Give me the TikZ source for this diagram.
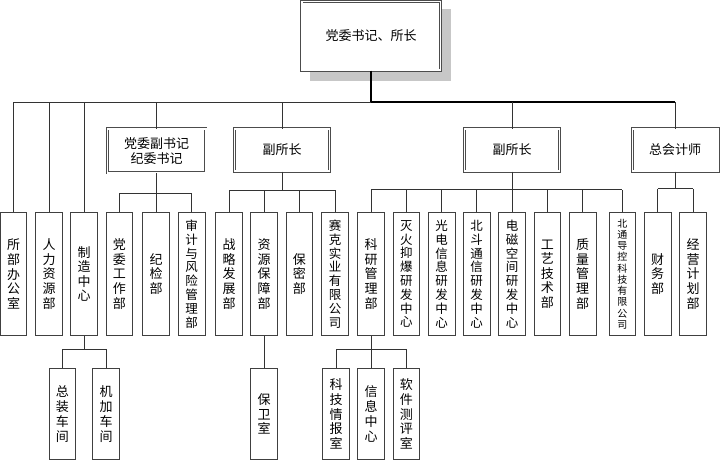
\documentclass[tikz,border=0pt]{standalone}
\usepackage{fontspec}
\newfontfamily\cjk{Noto Sans CJK SC}
\begin{document}
\begin{tikzpicture}[x=1pt,y=-1pt,
  ln/.style={draw=black!80, line width=0.8pt},
  thick line/.style={draw=black, line width=1.7pt},
  vbox/.style={draw=black!75, fill=white, line width=0.9pt, minimum width=26.7pt, minimum height=123.4pt, inner sep=0pt, align=center, font=\cjk\fontsize{13}{14.6}\selectfont},
  vlong/.style={vbox, font=\cjk\fontsize{12.5}{13.8}\selectfont},
  vtiny/.style={vbox, font=\cjk\fontsize{10}{11.25}\selectfont},
  lbox/.style={vbox, minimum height=91.2pt, font=\cjk\fontsize{13}{14.8}\selectfont},
  dbox/.style={draw=black!70, fill=white, line width=0.8pt, double=white, double distance=1.4pt, inner sep=0pt, align=center, font=\cjk\fontsize{13}{15}\selectfont},
  shadowbox/.style={fill=black!22, draw=none}
]
\useasboundingbox (0,0) rectangle (720,460);

% top box with shadow
\fill[shadowbox] (309.7,9) rectangle (450.7,80.7);
\node[dbox, minimum width=138.6pt, minimum height=68.6pt] (top) at (371.2,35.9) {党委书记、所长};

% second-row boxes
\node[dbox, minimum width=98.6pt, minimum height=43.9pt] (dw) at (156.5,150.9) {党委副书记\\纪委书记};
\node[dbox, minimum width=95pt, minimum height=42.2pt] (f1) at (282,150) {副所长};
\node[dbox, minimum width=95pt, minimum height=42.2pt] (f2) at (512,150) {副所长};
\node[dbox, minimum width=85.9pt, minimum height=42.2pt] (zk) at (675.2,150) {总会计师};

% row boxes
\node[vbox] (a1) at (13.5,274) {所\\部\\办\\公\\室};
\node[vbox] (a2) at (49,274) {人\\力\\资\\源\\部};
\node[vbox] (a3) at (84,274) {制\\造\\中\\心};
\node[vbox] (b1) at (119.3,274) {党\\委\\工\\作\\部};
\node[vbox] (b2) at (156,274) {纪\\检\\部};
\node[vlong] (b3) at (191.7,274) {审\\计\\与\\风\\险\\管\\理\\部};
\node[vbox] (c1) at (229,274) {战\\略\\发\\展\\部};
\node[vbox] (c2) at (264.2,274) {资\\源\\保\\障\\部};
\node[vbox] (c3) at (299.3,274) {保\\密\\部};
\node[vlong] (c4) at (335,274) {赛\\克\\实\\业\\有\\限\\公\\司};
\node[vbox] (d1) at (371,274) {科\\研\\管\\理\\部};
\node[vlong] (d2) at (406.3,274) {灭\\火\\抑\\爆\\研\\发\\中\\心};
\node[vlong] (d3) at (441.7,274) {光\\电\\信\\息\\研\\发\\中\\心};
\node[vlong] (d4) at (476.7,274) {北\\斗\\通\\信\\研\\发\\中\\心};
\node[vlong] (d5) at (512,274) {电\\磁\\空\\间\\研\\发\\中\\心};
\node[vbox] (d6) at (547.3,274) {工\\艺\\技\\术\\部};
\node[vbox] (d7) at (582.7,274) {质\\量\\管\\理\\部};
\node[vtiny] (d8) at (622.3,274) {北\\通\\导\\控\\科\\技\\有\\限\\公\\司};
\node[vbox] (e1) at (657.7,274) {财\\务\\部};
\node[vbox] (e2) at (693,274) {经\\营\\计\\划\\部};

% bottom boxes
\node[lbox] (g1) at (62.3,413.9) {总\\装\\车\\间};
\node[lbox] (g2) at (106,413.9) {机\\加\\车\\间};
\node[lbox] (h1) at (264.2,413.9) {保\\卫\\室};
\node[lbox] (k1) at (336,413.9) {科\\技\\情\\报\\室};
\node[lbox] (k2) at (371,413.9) {信\\息\\中\\心};
\node[lbox] (k3) at (406.3,413.9) {软\\件\\测\\评\\室};

% bus coordinates
\coordinate (ml) at (0,102.3);
\coordinate (bdw) at (0,193.3);
\coordinate (bf1) at (0,190);
\coordinate (bf2) at (0,189.5);
\coordinate (bzk) at (0,188.5);
\coordinate (blow) at (0,349.3);

% main line
\draw[thick line] (top.south) -- (top.south |- ml);
\draw[ln] (a1.north |- ml) -- (top.south |- ml);
\draw[thick line] (top.south |- ml) -- (zk.north |- ml);
\foreach \n in {a1,a2,a3} \draw[ln] (\n.north) -- (\n.north |- ml);
\draw[ln] (dw.north) -- (dw.north |- ml);
\draw[ln] (f1.north) -- (f1.north |- ml);
\draw[ln] (f2.north) -- (f2.north |- ml);
\draw[ln] (zk.north) -- (zk.north |- ml);

% group buses
\draw[ln] (dw.south) -- (dw.south |- bdw);
\draw[ln] (b1.north |- bdw) -- (b3.north |- bdw);
\foreach \n in {b1,b2,b3} \draw[ln] (\n.north) -- (\n.north |- bdw);

\draw[ln] (f1.south) -- (f1.south |- bf1);
\draw[ln] (c1.north |- bf1) -- (c4.north |- bf1);
\foreach \n in {c1,c2,c3,c4} \draw[ln] (\n.north) -- (\n.north |- bf1);

\draw[ln] (f2.south) -- (f2.south |- bf2);
\draw[ln] (d1.north |- bf2) -- (d8.north |- bf2);
\foreach \n in {d1,d2,d3,d4,d5,d6,d7,d8} \draw[ln] (\n.north) -- (\n.north |- bf2);

\draw[ln] (zk.south) -- (zk.south |- bzk);
\draw[ln] (e1.north |- bzk) -- (e2.north |- bzk);
\foreach \n in {e1,e2} \draw[ln] (\n.north) -- (\n.north |- bzk);

% lower level
\draw[ln] (a3.south) -- (a3.south |- blow);
\draw[ln] (g1.north |- blow) -- (g2.north |- blow);
\foreach \n in {g1,g2} \draw[ln] (\n.north) -- (\n.north |- blow);

\draw[ln] (c2.south) -- (h1.north);

\draw[ln] (d1.south) -- (d1.south |- blow);
\draw[ln] (k1.north |- blow) -- (k3.north |- blow);
\foreach \n in {k1,k2,k3} \draw[ln] (\n.north) -- (\n.north |- blow);
\end{tikzpicture}
\end{document}
